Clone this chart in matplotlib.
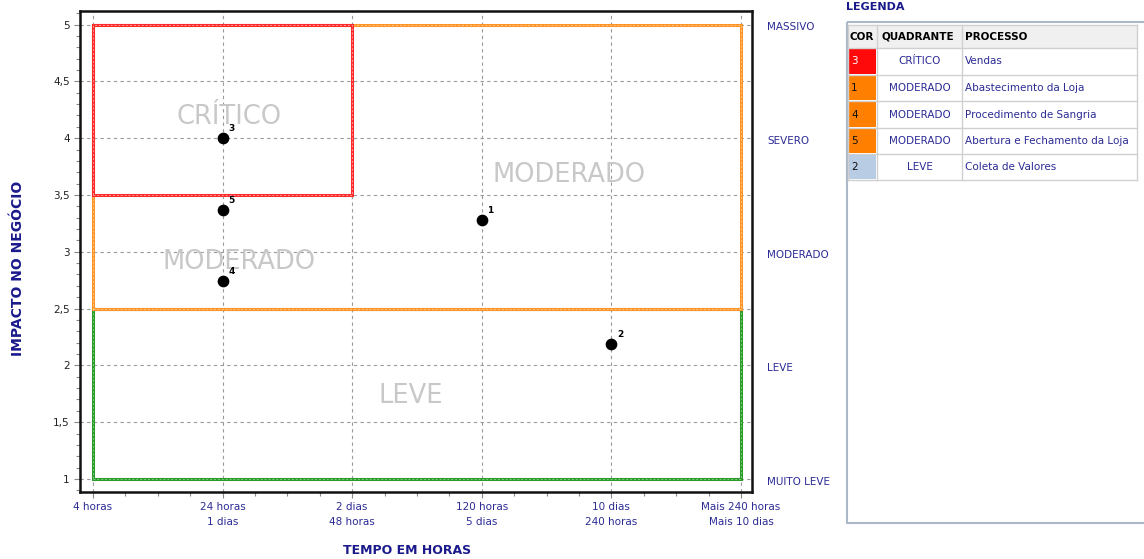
import matplotlib.pyplot as plt
from matplotlib.patches import Rectangle
from matplotlib.ticker import FuncFormatter, MultipleLocator
import numpy as np

plt.rcParams['font.family'] = ['DejaVu Sans']

# eixo X: faixas de tempo
tempo_labels = ['4 horas', '24 horas\n1 dias', '2 dias\n48 horas', '120 horas\n5 dias',
                '10 dias\n240 horas', 'Mais 240 horas\nMais 10 dias']
# eixo Y: níveis de impacto
impacto_labels = ['MUITO LEVE', 'LEVE', 'MODERADO', 'SEVERO', 'MASSIVO']
impacto_valores = [1, 2, 3, 4, 5]

# processos avaliados
proc_ids = ['1', '2', '3', '4', '5']
proc_tempo = [3, 4, 1, 1, 1]
proc_impacto = [3.28, 2.19, 4.0, 2.74, 3.37]

# quadrantes: (nome, x0, x1, y0, y1, cor, cor do tracejado, posição do rótulo)
quadrantes = [
    ('LEVE', 0, 5, 1.0, 2.5, '#2a9a2a', '#7fcf7f', (2.45, 1.73)),
    ('MODERADO', 0, 5, 2.5, 5.0, '#ff9326', '#ffc890', (3.67, 3.68)),
    ('CRÍTICO', 0, 2, 3.5, 5.0, '#ff2a2a', '#ff9a9a', (1.05, 4.19)),
]
rotulo_extra = ('MODERADO', (1.13, 2.91))

# tabela da legenda
leg_cor = ['3', '1', '4', '5', '2']
leg_fundo = ['#ff0a0a', '#ff8000', '#ff8000', '#ff8000', '#b8cce4']
leg_quadrante = ['CRÍTICO', 'MODERADO', 'MODERADO', 'MODERADO', 'LEVE']
leg_processo = ['Vendas', 'Abastecimento da Loja', 'Procedimento de Sangria',
                'Abertura e Fechamento da Loja', 'Coleta de Valores']

azul = '#2b2b96'
W, H = 1144, 559
fig = plt.figure(figsize=(W / 100, H / 100), dpi=100)
ax = fig.add_axes([80 / W, 67 / H, 672 / W, 481 / H])

ax.set_xlim(-0.1, 5.085)
ax.set_ylim(0.885, 5.12)

ax.set_xticks(range(len(tempo_labels)))
ax.set_xticklabels(tempo_labels, color=azul, fontsize=7.5, linespacing=1.6)
ax.xaxis.set_minor_locator(MultipleLocator(0.25))
ax.yaxis.set_major_locator(MultipleLocator(0.5))
ax.yaxis.set_minor_locator(MultipleLocator(0.1))
ax.yaxis.set_major_formatter(FuncFormatter(lambda v, p: f'{v:g}'.replace('.', ',')))
ax.tick_params(axis='y', labelsize=7.5, labelcolor='#222222')
ax.tick_params(which='both', color='#888888', width=0.8)
ax.tick_params(which='major', length=4)
ax.tick_params(which='minor', length=3)
ax.grid(True, which='major', linestyle=(0, (3, 3)), color='#999999', linewidth=0.8)
ax.set_axisbelow(True)
for s in ax.spines.values():
    s.set_linewidth(1.8)
    s.set_color('#111111')

# contornos dos quadrantes (linha cheia com tracejado claro por cima)
for nome, x0, x1, y0, y1, cor, cor_tr, pos in quadrantes:
    ax.add_patch(Rectangle((x0, y0), x1 - x0, y1 - y0, fill=False,
                           edgecolor=cor, linewidth=2.2, zorder=2))
    ax.add_patch(Rectangle((x0, y0), x1 - x0, y1 - y0, fill=False,
                           edgecolor=cor_tr, linewidth=0.7, linestyle=(0, (2, 2)), zorder=2))
    ax.text(pos[0], pos[1], nome, color='#c8c8c8', fontsize=18.5,
            ha='center', va='center', zorder=1)
ax.text(rotulo_extra[1][0], rotulo_extra[1][1], rotulo_extra[0], color='#c8c8c8',
        fontsize=18.5, ha='center', va='center', zorder=1)

# processos
ax.scatter(proc_tempo, proc_impacto, s=55, color='black', zorder=4)
for pid, x, y in zip(proc_ids, proc_tempo, proc_impacto):
    ax.annotate(pid, (x, y), xytext=(4, 5), textcoords='offset points',
                fontsize=6.5, fontweight='bold', color='black', zorder=5)

# níveis de impacto à direita
for v, t in zip(impacto_valores, impacto_labels):
    ax.text(5.2, v - 0.025, t, color=azul, fontsize=7.5, va='center', ha='left',
            clip_on=False)

fig.text(18 / W, 1 - 268 / H, 'IMPACTO NO NEGÓCIO', rotation=90, color='#1a1a8c',
         fontsize=10, fontweight='bold', ha='center', va='center')
fig.text(407 / W, 1 - 550 / H, 'TEMPO EM HORAS', color='#1a1a8c',
         fontsize=9, fontweight='bold', ha='center', va='center')

# painel da legenda, em coordenadas de pixel
lg = fig.add_axes([0, 0, 1, 1], facecolor='none')
lg.set_xlim(0, W)
lg.set_ylim(H, 0)
lg.axis('off')
lg.text(846, 7, 'LEGENDA', color='#1a1a8c', fontsize=8, fontweight='bold',
        ha='left', va='center')
lg.add_patch(Rectangle((847, 22), W, 501, fill=False, edgecolor='#aab8c8', linewidth=1.5))

col_x = [848, 877, 962, 1137]
lin_y = [25, 48, 75, 101, 128, 154, 180]
lg.add_patch(Rectangle((col_x[0], lin_y[0]), col_x[-1] - col_x[0], lin_y[1] - lin_y[0],
                       facecolor='#f0f0f0', edgecolor='none'))
for t, x in zip(['COR', 'QUADRANTE', 'PROCESSO'], [850, 881, 965]):
    lg.text(x, (lin_y[0] + lin_y[1]) / 2, t, fontsize=7.5, fontweight='bold',
            color='black', ha='left', va='center')

for i in range(len(leg_cor)):
    y0, y1 = lin_y[i + 1], lin_y[i + 2]
    ym = (y0 + y1) / 2
    lg.add_patch(Rectangle((col_x[0], y0 + 1), col_x[1] - col_x[0] - 1, y1 - y0 - 2,
                           facecolor=leg_fundo[i], edgecolor='none'))
    lg.text(851, ym, leg_cor[i], fontsize=7.5, ha='left', va='center',
            color='white' if leg_fundo[i] == '#ff0a0a' else '#111111')
    lg.text((col_x[1] + col_x[2]) / 2, ym, leg_quadrante[i], fontsize=7.5, color=azul,
            ha='center', va='center')
    lg.text(965, ym, leg_processo[i], fontsize=7.5, color=azul, ha='left', va='center')

for y in lin_y:
    lg.plot([col_x[0], col_x[-1]], [y, y], color='#d0d0d0', linewidth=1)
for x in col_x:
    lg.plot([x, x], [lin_y[0], lin_y[-1]], color='#d0d0d0', linewidth=1)

fig.savefig('out.png', dpi=100)
